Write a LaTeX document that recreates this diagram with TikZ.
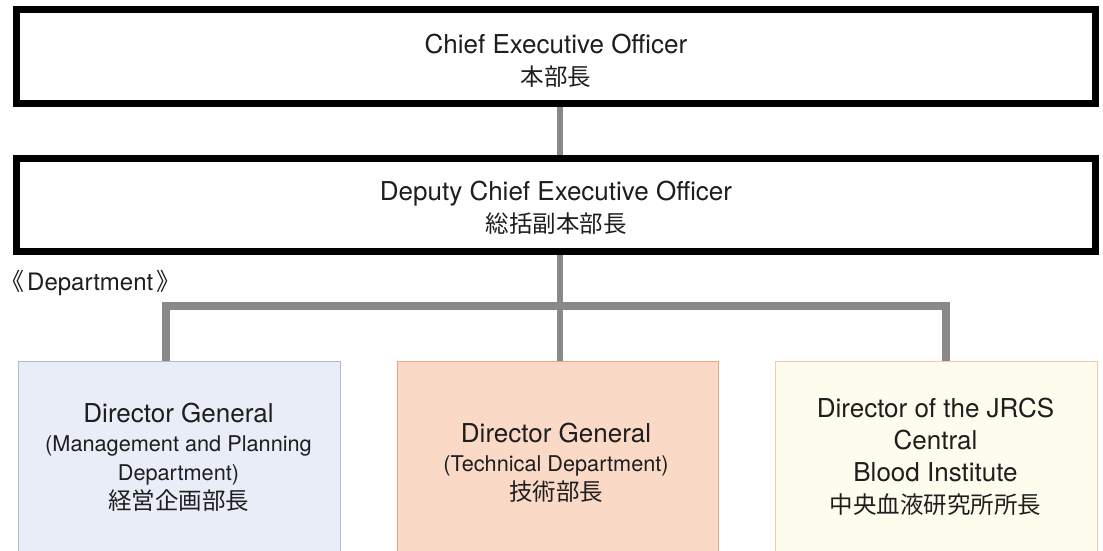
\documentclass[tikz,border=0pt]{standalone}
\usepackage{fontspec}
\setmainfont{TeX Gyre Heros}
\newfontfamily\cjk{Noto Sans CJK JP}
\usetikzlibrary{backgrounds}
\definecolor{connGray}{HTML}{898989}
\definecolor{mpFill}{HTML}{E9EDF8}
\definecolor{mpLine}{HTML}{B3B8DF}
\definecolor{tdFill}{HTML}{FAD9C7}
\definecolor{tdLine}{HTML}{F0A088}
\definecolor{biFill}{HTML}{FEFCED}
\definecolor{biLine}{HTML}{F8C5AD}
\definecolor{txtCol}{HTML}{1E1E1E}
\tikzset{
  headbox/.style={draw=black, line width=7pt, fill=white, minimum width=1079pt,
    minimum height=94pt, inner sep=0pt},
  headtext/.style={align=center, inner sep=0pt, text=txtCol,
    font=\fontsize{26}{32}\selectfont},
  deptbox/.style={line width=1pt, minimum width=322pt, minimum height=200pt,
    inner sep=0pt, anchor=north west},
  depttext/.style={align=center, inner sep=0pt, text=txtCol},
  conn/.style={draw=connGray, line width=6pt},
  bracketline/.style={draw=connGray, line width=8pt, line join=miter},
}
\newcommand{\jp}[1]{{\cjk\fontsize{23.5}{29}\selectfont #1}}
\begin{document}
\begin{tikzpicture}[x=1pt,y=-1pt]
\useasboundingbox (0,0) rectangle (1103,550);
\clip (0,0) rectangle (1103,550);

% head boxes
\node[headbox] (ceo) at (556,56.5) {};
\node[headtext] (ceotext) at (556,61) {Chief Executive Officer\\\jp{本部長}};
\node[headbox, minimum height=93pt] (deputy) at (556,205) {};
\node[headtext] (deputytext) at (556,207.5) {Deputy Chief Executive Officer\\\jp{総括副本部長}};

% department label
\node[anchor=west, inner sep=0pt, text=txtCol, font=\fontsize{24}{28}\selectfont] (deptlabel) at (0,283)
  {{\cjk 《}\kern3pt Department\kern3pt{\cjk 》}};

% department boxes
\node[deptbox, draw=mpLine, fill=mpFill] (mp) at (17.5,360.5) {};
\node[deptbox, draw=tdLine, fill=tdFill, minimum width=321pt] (td) at (396.5,360.5) {};
\node[deptbox, draw=biLine, fill=biFill] (bi) at (774.5,360.5) {};

\node[depttext, font=\fontsize{26}{29}\selectfont] (mptext) at (178.5,457)
  {Director General\\{\fontsize{21.7}{28}\selectfont (Management and Planning}\\{\fontsize{21.7}{28}\selectfont Department)}\\\jp{経営企画部長}};
\node[depttext, font=\fontsize{26}{29}\selectfont] (tdtext) at (556,463)
  {Director General\\{\fontsize{21.7}{28}\selectfont (Technical Department)}\\\jp{技術部長}};
\node[depttext, font=\fontsize{26}{32}\selectfont] (bitext) at (935.5,456.5)
  {Director of the JRCS\\Central\\Blood Institute\\\jp{中央血液研究所所長}};

% connectors
\coordinate (cx) at (560,0);
\coordinate (lx) at (166,0);
\coordinate (rx) at (946,0);
\coordinate (bar) at (0,305.5);
\begin{scope}[on background layer]
  \draw[conn] (ceo.south -| cx) -- (deputy.north -| cx);
  \draw[conn] (deputy.south -| cx) -- (td.north -| cx);
  \draw[bracketline] (mp.north -| lx) -- (lx |- bar) -- (rx |- bar) -- (bi.north -| rx);
\end{scope}
\end{tikzpicture}
\end{document}
